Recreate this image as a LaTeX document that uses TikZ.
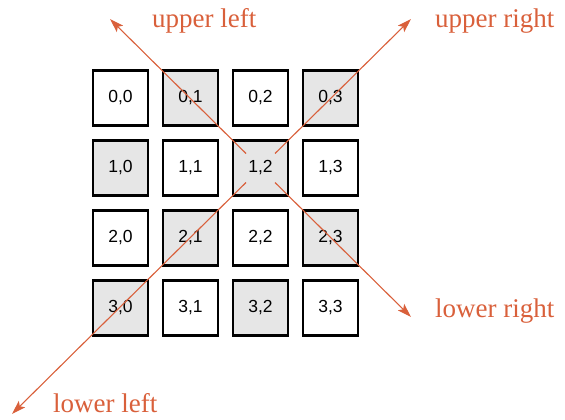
\documentclass[tikz,border=0pt]{standalone}
\usepackage{fontspec}
\setmainfont{Liberation Serif}
\newfontfamily\cellfont{Liberation Sans}
\usetikzlibrary{arrows.meta,calc}
\definecolor{dirorange}{HTML}{D9603B}
\definecolor{cellgray}{HTML}{E6E6E6}
\tikzset{
  cell/.style={draw=black, line width=2.4pt, minimum size=55pt, inner sep=0pt,
    font=\cellfont\fontsize{17.5}{17.5}\selectfont},
  shaded/.style={cell, fill=cellgray},
  plain/.style={cell, fill=white},
  dirarrow/.style={draw=dirorange, line width=1.1pt,
    -{Stealth[length=14pt,width=9pt,inset=3pt]}},
  dirlabel/.style={text=dirorange, font=\fontsize{27}{27}\selectfont,
    inner sep=0pt, anchor=base west},
}
\begin{document}
\begin{tikzpicture}[x=1pt,y=-1pt]
\useasboundingbox (0,0) rectangle (565,420);
% 4x4 grid of cells, checkerboard shading
\foreach \r in {0,...,3}{
  \foreach \c in {0,...,3}{
    \pgfmathtruncatemacro{\parity}{mod(\r+\c,2)}
    \ifnum\parity=1
      \node[shaded] (b\r\c) at (120.5+70*\c, 98+70*\r) {\r,\c};
    \else
      \node[plain] (b\r\c) at (120.5+70*\c, 98+70*\r) {\r,\c};
    \fi
  }
}
% arrow start points just off the centre of cell 1,2
\coordinate (sUL) at ($(b12.center)+(-14.5,-14.5)$);
\coordinate (sUR) at ($(b12.center)+(14.5,-14.5)$);
\coordinate (sLL) at ($(b12.center)+(-14.5,14.5)$);
\coordinate (sLR) at ($(b12.center)+(14.5,14.5)$);
% arrow tips
\coordinate (tUL) at (110,19);
\coordinate (tUR) at (411,19);
\coordinate (tLL) at (12,414);
\coordinate (tLR) at (411,317);
\draw[dirarrow] (sUL) -- (tUL);
\draw[dirarrow] (sUR) -- (tUR);
\draw[dirarrow] (sLL) -- (tLL);
\draw[dirarrow] (sLR) -- (tLR);
% direction labels
\node[dirlabel] (lUL) at (152,28) {upper left};
\node[dirlabel] (lUR) at (435,28) {upper right};
\node[dirlabel] (lLL) at (53,412) {lower left};
\node[dirlabel] (lLR) at (435,317) {lower right};
\end{tikzpicture}
\end{document}
